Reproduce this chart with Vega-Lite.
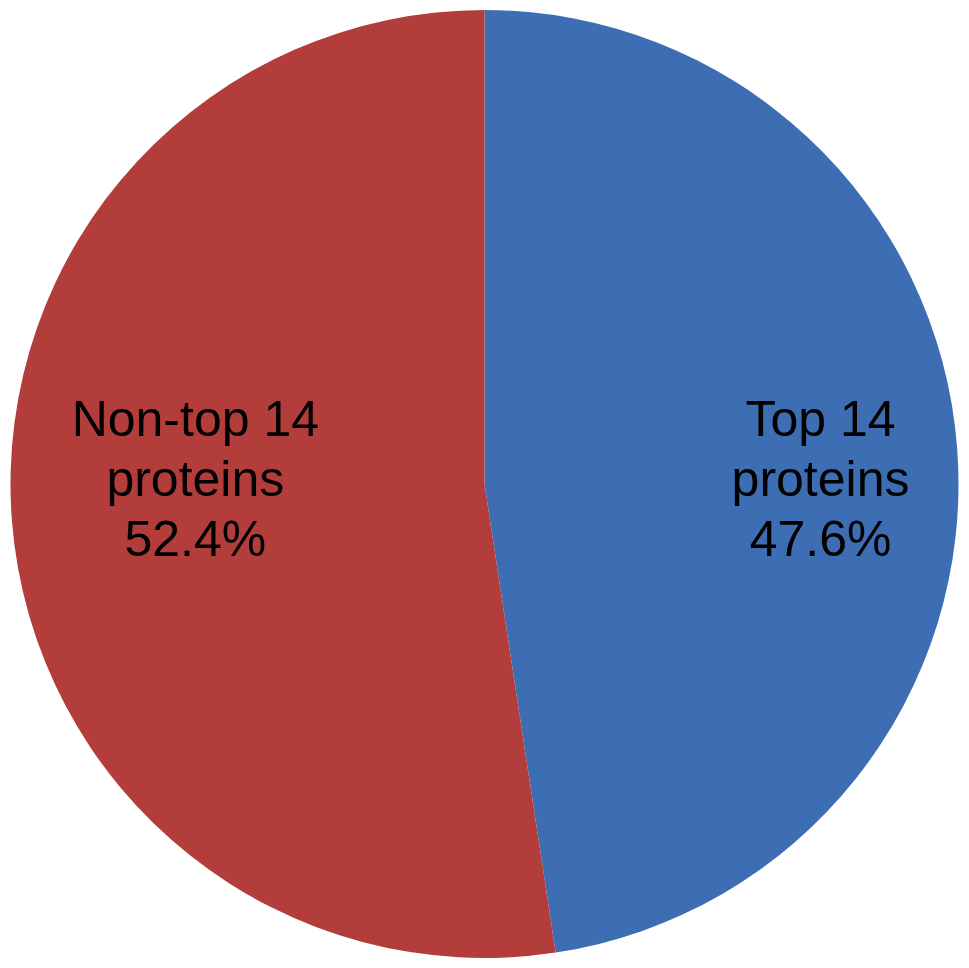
{
  "$schema": "https://vega.github.io/schema/vega-lite/v6.json",
  "width": 969,
  "height": 968,
  "autosize": {"type": "fit", "contains": "padding"},
  "padding": 0,
  "background": "white",
  "config": {"view": {"stroke": null}},
  "data": {
    "values": [
      {"category": "Top 14 proteins", "value": 47.6, "rank": 1, "label": "Top 14\nproteins\n\u2002\u200247.6%"},
      {"category": "Non-top 14 proteins", "value": 52.4, "rank": 2, "label": "Non-top 14\nproteins\n\u2002\u200252.4%"}
    ]
  },
  "encoding": {
    "theta": {"field": "value", "type": "quantitative", "stack": true},
    "order": {"field": "rank", "type": "quantitative"}
  },
  "layer": [
    {
      "mark": {"type": "arc", "outerRadius": 474, "stroke": null},
      "encoding": {
        "color": {
          "field": "category",
          "type": "nominal",
          "scale": {"domain": ["Top 14 proteins", "Non-top 14 proteins"], "range": ["#3D6EB3", "#B33D3A"]},
          "legend": null
        }
      }
    },
    {
      "mark": {"type": "text", "radius": 337, "dy": -38, "font": "Liberation Sans", "fontSize": 50, "lineBreak": "\n", "lineHeight": 60, "align": "center", "baseline": "middle", "color": "black"},
      "encoding": {"text": {"condition": {"test": "datum.rank == 1", "field": "label"}, "value": ""}}
    },
    {
      "mark": {"type": "text", "radius": 290, "dy": -85, "font": "Liberation Sans", "fontSize": 50, "lineBreak": "\n", "lineHeight": 60, "align": "center", "baseline": "middle", "color": "black"},
      "encoding": {"text": {"condition": {"test": "datum.rank == 2", "field": "label"}, "value": ""}}
    }
  ]
}
